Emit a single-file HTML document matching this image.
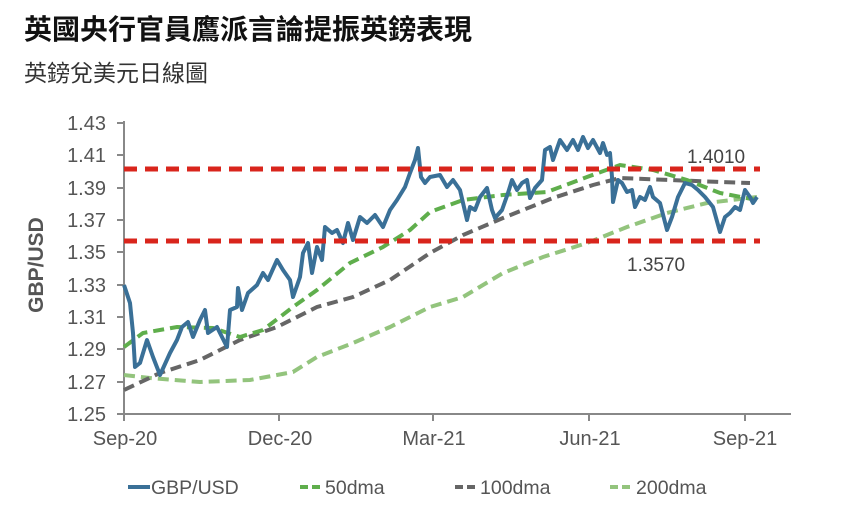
<!DOCTYPE html>
<html><head><meta charset="utf-8"><style>
body{margin:0;background:#fff;width:850px;height:508px;overflow:hidden;font-family:"Liberation Sans","Noto Sans CJK TC",sans-serif}
.t{position:absolute;left:24px;top:8px;font-size:28px;font-weight:bold;color:#111}
.s{position:absolute;left:24px;top:54px;font-size:23px;color:#333}
</style></head><body>
<div class="t">英國央行官員鷹派言論提振英鎊表現</div>
<div class="s">英鎊兌美元日線圖</div>
<svg width="850" height="508" style="position:absolute;left:0;top:0" font-family="Liberation Sans, sans-serif">
<g font-size="20" fill="#555" text-anchor="end">
<text x="106" y="130">1.43</text><text x="106" y="162">1.41</text><text x="106" y="195">1.39</text>
<text x="106" y="227">1.37</text><text x="106" y="259">1.35</text><text x="106" y="292">1.33</text>
<text x="106" y="324">1.31</text><text x="106" y="356">1.29</text><text x="106" y="389">1.27</text>
<text x="106" y="421">1.25</text></g>
<text transform="translate(43,265) rotate(-90)" font-size="21" font-weight="bold" fill="#555" text-anchor="middle">GBP/USD</text>
<g stroke="#888" stroke-width="2" fill="none">
<path d="M124 121V414H791"/>
<path d="M117 123H124M117 155H124M117 188H124M117 220H124M117 252H124M117 285H124M117 317H124M117 349H124M117 382H124M117 414H124"/>
<path d="M124 414v7M279 414v7M433 414v7M589 414v7M745 414v7"/>
</g>
<g font-size="20" fill="#555" text-anchor="middle">
<text x="125" y="445">Sep-20</text><text x="280" y="445">Dec-20</text><text x="434" y="445">Mar-21</text><text x="590" y="445">Jun-21</text><text x="745" y="445">Sep-21</text></g>
<g fill="none" stroke-width="4" stroke-dasharray="11,6">
<path stroke="#93c47d" d="M124 375L150 378L200 382L250 380L293 372L317 357L353 343L390 327L430 307L463 297L503 273L543 257L587 243L627 227L667 213L707 203L757 197"/>
<path stroke="#666" d="M124 390L160 373L200 360L240 340L277 327L317 307L353 297L390 280L430 253L463 235L503 218L553 198L593 185L620 178L670 180L720 182L750 183"/>
<path stroke="#5fae4c" d="M124 347L143 333L177 327L213 328L240 337L263 330L293 307L317 290L350 263L383 247L410 230L430 212L463 200L503 195L547 192L587 177L620 165L653 170L687 180L720 193L757 200"/>
</g>
<path fill="none" stroke="#3a7097" stroke-width="4" stroke-linejoin="round" d="M124 285L130 303L133 333L135 367L140 363L147 340L153 357L160 375L170 353L177 340L182 327L188 322L193 337L200 320L205 310L208 333L217 327L227 347L230 310L237 307L238 288L242 310L248 293L257 285L263 273L268 280L277 260L283 270L290 280L293 297L300 277L303 253L308 243L312 273L317 247L322 260L325 227L332 233L337 230L343 243L348 223L353 240L360 217L367 223L375 215L383 227L390 210L397 200L405 187L410 173L415 160L418 148L421 177L425 183L430 177L440 175L447 187L453 180L460 190L467 220L470 207L475 210L480 197L487 188L492 210L495 218L502 210L508 193L512 180L517 190L522 183L527 180L530 198L535 188L542 180L545 150L550 147L553 160L560 140L567 150L573 140L578 150L583 137L588 148L593 140L600 153L603 143L607 155L610 153L612 177L613 202L618 180L622 183L627 192L632 190L635 207L640 197L645 200L650 187L653 197L660 203L667 230L672 217L678 197L685 183L692 185L698 190L705 197L713 207L720 232L725 217L730 213L735 207L740 210L745 190L750 197L753 203L757 197"/>
<g stroke="#d9251c" stroke-width="5" stroke-dasharray="13,8">
<path d="M124 169H760"/><path d="M124 241H760"/></g>
<g font-size="19" fill="#444"><text x="687" y="163">1.4010</text><text x="627" y="271">1.3570</text></g>
<g stroke-width="4" fill="none">
<path stroke="#3a7097" d="M128 487H150"/>
<path stroke="#5fae4c" stroke-dasharray="8,4" d="M300 487H322"/>
<path stroke="#666" stroke-dasharray="8,4" d="M455 487H477"/>
<path stroke="#93c47d" stroke-dasharray="8,4" d="M610 487H632"/></g>
<g font-size="19.5" fill="#555"><text x="151" y="494">GBP/USD</text><text x="325" y="494">50dma</text><text x="480" y="494">100dma</text><text x="636" y="494">200dma</text></g>
</svg>
</body></html>
